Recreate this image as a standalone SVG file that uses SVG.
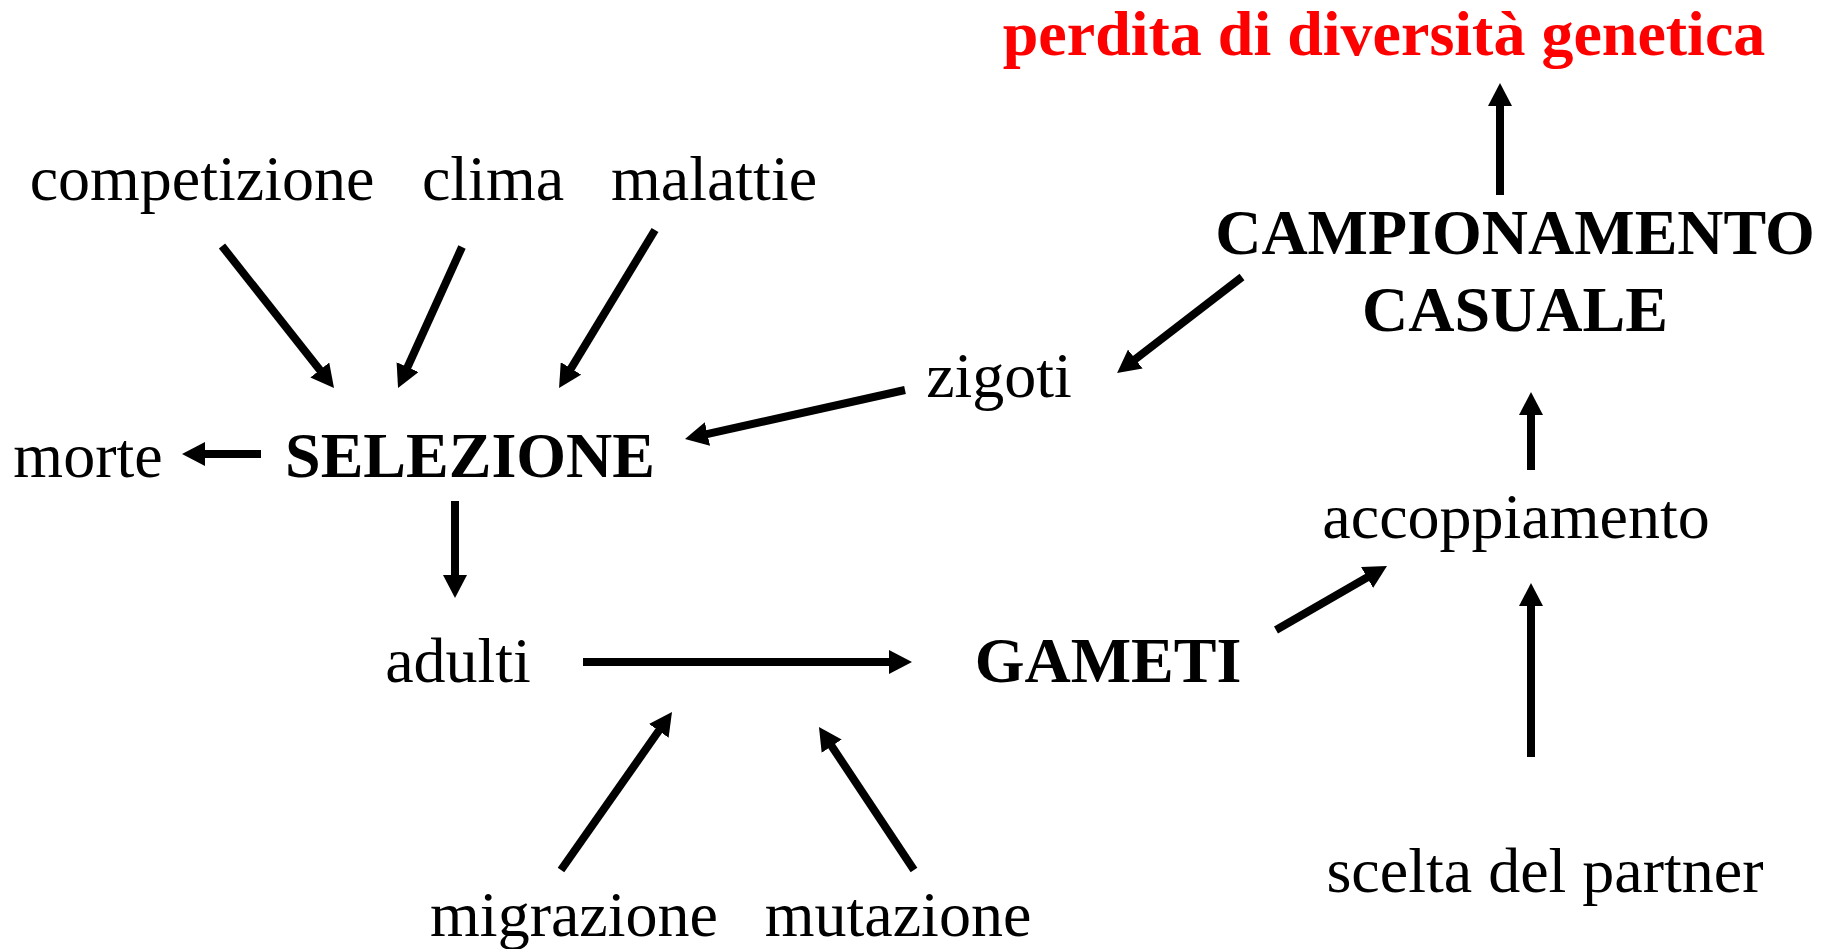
<svg xmlns="http://www.w3.org/2000/svg" width="1827" height="949" viewBox="0 0 1827 949">
<style>
text{font-family:"Liberation Serif","Times New Roman",serif;font-size:64px;fill:#000;text-anchor:middle}
.b{font-weight:bold}
.red{fill:#ff0000}
.c line{stroke:#000;stroke-width:8;marker-end:url(#ah)}
</style>
<defs>
<marker id="ah" markerUnits="userSpaceOnUse" markerWidth="24" markerHeight="24" refX="11" refY="12" orient="auto">
<path d="M0,0 L23,12 L0,24 z" fill="#000"/>
</marker>
</defs>
<rect width="1827" height="949" fill="#fff"/>
<g id="perdita"><text class="b red" x="1384" y="55">perdita di diversità genetica</text></g>
<g id="competizione"><text x="202" y="200">competizione</text></g>
<g id="clima"><text x="493" y="200">clima</text></g>
<g id="malattie"><text x="714" y="200">malattie</text></g>
<g id="campionamento"><text class="b" x="1515" y="254">CAMPIONAMENTO</text><text class="b" x="1515" y="331">CASUALE</text></g>
<g id="zigoti"><text x="999" y="397">zigoti</text></g>
<g id="morte"><text x="88" y="477">morte</text></g>
<g id="selezione"><text class="b" x="470" y="477">SELEZIONE</text></g>
<g id="accoppiamento"><text x="1516" y="538">accoppiamento</text></g>
<g id="adulti"><text x="458" y="682">adulti</text></g>
<g id="gameti"><text class="b" x="1108" y="682">GAMETI</text></g>
<g id="scelta"><text x="1545" y="892">scelta del partner</text></g>
<g id="migrazione"><text x="574" y="936">migrazione</text></g>
<g id="mutazione"><text x="898" y="936">mutazione</text></g>
<g id="connectors" class="c">
<line x1="222" y1="246" x2="326.6" y2="378.6"/>
<line x1="462" y1="247" x2="403" y2="377.1"/>
<line x1="655" y1="230" x2="565.3" y2="377.8"/>
<line x1="261" y1="454" x2="194" y2="454"/>
<line x1="905" y1="390" x2="696.7" y2="436.4"/>
<line x1="1242" y1="277" x2="1126.6" y2="365.8"/>
<line x1="1500" y1="195" x2="1500" y2="95"/>
<line x1="1531" y1="470" x2="1531" y2="404"/>
<line x1="1531" y1="757" x2="1531" y2="595"/>
<line x1="1276" y1="630" x2="1376.6" y2="572"/>
<line x1="455" y1="501" x2="455" y2="586"/>
<line x1="583" y1="662" x2="900" y2="662"/>
<line x1="561" y1="870" x2="665.1" y2="721.8"/>
<line x1="914" y1="870" x2="825.6" y2="737"/>
</g>
</svg>
